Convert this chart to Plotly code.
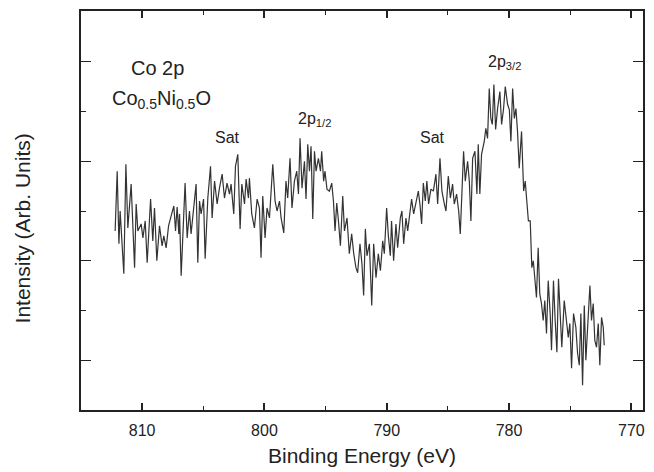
import plotly.graph_objects as go

# Binding energy (eV) and intensity (arb. units)
energy = [
812.21, 812.04, 811.90, 811.80, 811.50, 811.33, 811.17, 810.90, 810.62, 810.49,
810.35, 810.08, 809.94, 809.75, 809.59, 809.31, 809.13, 808.99, 808.80, 808.58,
808.37, 808.23, 808.04, 807.84, 807.63, 807.41, 807.27, 807.14, 807.00, 806.94,
806.81, 806.59, 806.49, 806.32, 806.13, 806.00, 805.78, 805.59, 805.45, 805.31,
805.18, 804.98, 804.85, 804.63, 804.41, 804.28, 804.08, 803.87, 803.68, 803.46,
803.27, 803.06, 802.86, 802.73, 802.51, 802.37, 802.18, 801.99, 801.85, 801.63,
801.50, 801.31, 801.23, 801.04, 800.82, 800.60, 800.41, 800.28, 800.14, 799.95,
799.79, 799.59, 799.32, 799.13, 798.97, 798.77, 798.64, 798.42, 798.24, 798.10,
797.91, 797.75, 797.55, 797.36, 797.22, 797.09, 796.93, 796.73, 796.60, 796.46,
796.32, 796.19, 796.05, 795.91, 795.78, 795.59, 795.42, 795.32, 795.16, 795.05,
794.89, 794.69, 794.50, 794.36, 794.23, 794.09, 793.95, 793.79, 793.60, 793.46,
793.25, 793.06, 792.87, 792.70, 792.52, 792.38, 792.19, 792.03, 791.89, 791.75,
791.62, 791.42, 791.23, 791.07, 790.88, 790.69, 790.52, 790.33, 790.20, 790.01,
789.87, 789.71, 789.61, 789.44, 789.25, 789.11, 788.89, 788.76, 788.62, 788.43,
788.29, 788.15, 787.97, 787.80, 787.61, 787.42, 787.29, 787.15, 787.01, 786.85,
786.72, 786.58, 786.39, 786.19, 785.98, 785.84, 785.65, 785.49, 785.29, 785.16,
784.97, 784.80, 784.62, 784.48, 784.29, 784.12, 783.99, 783.86, 783.72, 783.58,
783.39, 783.25, 783.12, 782.98, 782.79, 782.63, 782.52, 782.39, 782.25, 782.03,
781.90, 781.76, 781.62, 781.49, 781.37, 781.24, 781.10, 780.94, 780.75, 780.61,
780.45, 780.31, 780.12, 779.98, 779.85, 779.71, 779.57, 779.44, 779.31, 779.17,
778.98, 778.81, 778.68, 778.57, 778.42, 778.27, 778.14, 778.02, 777.90, 777.76,
777.62, 777.49, 777.35, 777.21, 777.08, 776.94, 776.80, 776.64, 776.53, 776.37,
776.23, 776.09, 775.96, 775.82, 775.69, 775.49, 775.30, 775.16, 775.03, 774.89,
774.73, 774.54, 774.40, 774.26, 774.13, 773.99, 773.85, 773.72, 773.59, 773.39,
773.26, 773.12, 772.99, 772.85, 772.71, 772.58, 772.44, 772.30, 772.22,
]
intensity = [
3.60, 4.80, 3.34, 4.00, 2.74, 4.94, 3.66, 4.54, 2.86, 4.14,
3.60, 3.74, 3.46, 3.80, 2.96, 4.24, 3.40, 4.06, 3.00, 3.70,
3.30, 3.50, 3.26, 3.70, 3.90, 4.10, 3.60, 4.08, 3.54, 3.94,
2.70, 4.00, 4.56, 3.46, 4.00, 3.54, 4.10, 4.54, 2.96, 4.20,
3.94, 4.24, 3.04, 4.26, 4.90, 3.86, 4.60, 4.14, 4.46, 4.74,
4.26, 4.56, 4.34, 4.54, 3.94, 4.90, 5.14, 3.64, 4.54, 4.14,
4.64, 4.26, 4.66, 3.94, 3.66, 4.24, 4.06, 3.06, 4.30, 3.46,
4.06, 3.86, 4.94, 4.20, 4.00, 4.20, 3.86, 3.56, 4.60, 4.26,
5.06, 4.06, 4.60, 4.80, 4.34, 5.46, 4.46, 5.00, 4.24, 5.34,
4.80, 5.30, 3.84, 5.20, 4.80, 5.06, 4.80, 5.20, 4.60, 4.80,
4.44, 4.40, 4.56, 4.20, 3.60, 4.16, 3.80, 3.30, 4.30, 3.60,
3.86, 3.14, 3.54, 3.14, 2.86, 2.76, 3.34, 2.94, 2.30, 3.64,
3.10, 3.34, 2.10, 3.34, 2.66, 3.14, 2.80, 3.40, 3.14, 4.06,
3.50, 3.10, 3.80, 3.00, 3.74, 3.26, 3.86, 4.00, 3.34, 3.86,
3.60, 3.94, 4.24, 3.94, 4.14, 4.40, 4.14, 3.74, 4.56, 4.20,
4.60, 4.14, 4.44, 4.40, 4.74, 4.14, 5.06, 4.40, 4.14, 4.00,
4.70, 4.26, 4.54, 4.14, 4.34, 4.00, 3.54, 4.40, 5.20, 4.60,
5.00, 4.60, 3.80, 5.06, 5.20, 4.34, 5.34, 4.34, 5.14, 5.40,
5.66, 5.46, 6.46, 5.86, 5.74, 6.54, 5.64, 6.06, 6.40, 5.74,
6.06, 6.50, 6.14, 6.04, 5.40, 6.46, 5.86, 6.06, 5.60, 4.86,
5.60, 4.40, 4.60, 4.26, 3.80, 3.80, 2.86, 3.00, 2.66, 2.26,
3.26, 2.34, 2.14, 1.80, 2.20, 1.54, 2.60, 1.94, 1.20, 2.60,
1.80, 1.16, 2.64, 1.94, 1.26, 2.20, 1.80, 1.46, 1.74, 0.84,
1.94, 1.66, 1.14, 0.90, 1.94, 0.50, 2.10, 1.00, 1.60, 2.50,
1.80, 2.14, 1.40, 1.26, 1.74, 0.90, 1.86, 1.66, 1.30,
]

x_ticks = [810, 800, 790, 780, 770]
x_tick_labels = ["810", "800", "790", "780", "770"]

# annotations: (energy, intensity, text, font size)
labels = [
    (808.72, 6.88, "Co 2p", 20),
    (808.39, 6.24, "Co<sub>0.5</sub>Ni<sub>0.5</sub>O", 20),
    (803.03, 5.48, "Sat", 16),
    (795.89, 5.84, "2p<sub>1/2</sub>", 16),
    (786.25, 5.48, "Sat", 16),
    (780.37, 6.98, "2p<sub>3/2</sub>", 16),
]
x_title = "Binding Energy (eV)"
y_title = "Intensity (Arb. Units)"

FONT = "Liberation Sans, Arial, sans-serif"
INK = "#222222"

fig = go.Figure()
fig.add_trace(go.Scatter(
    x=energy, y=intensity, mode="lines",
    line=dict(color="#333333", width=1.2),
    hoverinfo="skip", showlegend=False,
))

for ex, iy, txt, fs in labels:
    fig.add_annotation(x=ex, y=iy, text=txt, showarrow=False,
                       xanchor="center", yanchor="middle",
                       font=dict(family=FONT, size=fs, color=INK))

# axis titles
fig.add_annotation(xref="paper", yref="paper", x=0.5, y=-0.115, text=x_title,
                   showarrow=False, xanchor="center", yanchor="middle",
                   font=dict(family=FONT, size=21, color=INK))
fig.add_annotation(xref="paper", yref="paper", x=-0.105, y=0.455, text=y_title,
                   showarrow=False, xanchor="center", yanchor="middle", textangle=-90,
                   font=dict(family=FONT, size=21, color=INK))

fig.update_layout(
    width=654, height=472,
    margin=dict(l=81, r=11, t=9, b=62),
    paper_bgcolor="white", plot_bgcolor="white",
    font=dict(family=FONT, color=INK),
    showlegend=False,
)
fig.update_xaxes(
    range=[815.0, 769.05], autorange=False,
    tickvals=x_ticks, ticktext=x_tick_labels,
    ticks="inside", ticklen=7, tickwidth=1.5, tickcolor=INK,
    minor=dict(dtick=5, tick0=0, ticks="inside", ticklen=4, tickwidth=1.2, tickcolor=INK),
    showline=True, linecolor=INK, linewidth=1.7, mirror="allticks",
    showgrid=False, zeroline=False,
    ticklabelstandoff=5,
    tickfont=dict(family=FONT, size=16, color=INK),
)
fig.update_yaxes(
    range=[0, 8.02], autorange=False,
    tickvals=[1, 3, 5, 7], showticklabels=False,
    ticks="inside", ticklen=10, tickwidth=1.2, tickcolor=INK,
    minor=dict(tickvals=[2, 4, 6], ticks="inside", ticklen=5, tickwidth=1, tickcolor=INK),
    showline=True, linecolor=INK, linewidth=1.7, mirror="allticks",
    showgrid=False, zeroline=False,
)

fig.write_html("out.html")
